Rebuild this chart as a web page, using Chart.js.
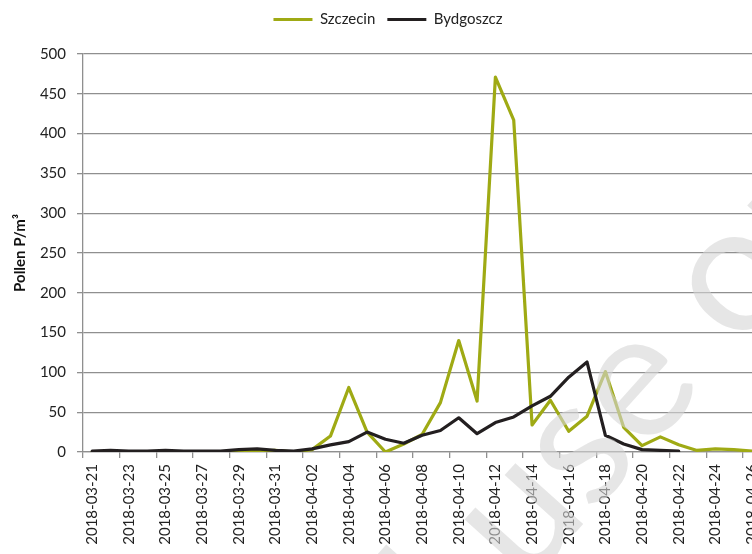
<!DOCTYPE html>
<html>
<head>
<meta charset="utf-8">
<script src="https://cdn.jsdelivr.net/npm/chart.js@4/dist/chart.umd.min.js"></script>
<style>
  html, body { margin: 0; padding: 0; background: #fff; overflow: hidden; }
  #wrap { width: 776px; height: 554px; position: relative; }
</style>
</head>
<body>
<div id="wrap"><canvas id="chart"></canvas></div>
<script>
const dates = [
  '2018-03-21', '2018-03-22', '2018-03-23', '2018-03-24', '2018-03-25', '2018-03-26',
  '2018-03-27', '2018-03-28', '2018-03-29', '2018-03-30', '2018-03-31', '2018-04-01',
  '2018-04-02', '2018-04-03', '2018-04-04', '2018-04-05', '2018-04-06', '2018-04-07',
  '2018-04-08', '2018-04-09', '2018-04-10', '2018-04-11', '2018-04-12', '2018-04-13',
  '2018-04-14', '2018-04-15', '2018-04-16', '2018-04-17', '2018-04-18', '2018-04-19',
  '2018-04-20', '2018-04-21', '2018-04-22', '2018-04-23', '2018-04-24', '2018-04-25',
  '2018-04-26',
];

const szczecin = [
  0, 0, 0, 0, 0, 0, 0, 0, 1, 1, 2, 0,
  3, 20, 81, 25, 0, 10, 22, 62, 140, 64, 471, 417,
  34, 65, 26, 45, 101, 31, 8, 19, 9, 2, 4, 3,
  1,
];

const bydgoszcz = [
  1, 2, 1, 1, 2, 1, 1, 1, 3, 4, 2, 1,
  4, 9, 13, 25, 16, 11, 21, 27, 43, 23, 37, 44,
  58, 70, 94, 113, 21, 10, 3, 2, 1, null, null, null,
  null,
];

const yTicks = [0, 50, 100, 150, 200, 250, 300, 350, 400, 450, 500];

const green = '#9faa14';
const black = '#231f20';
const gridGrey = '#8f8f8f';
const font = 'Lato';

// legend takes the top strip, plot starts at y=54
const legendHeight = {
  id: 'legendHeight',
  beforeInit(chart) {
    const fit = chart.legend.fit;
    chart.legend.fit = function () {
      fit.bind(chart.legend)();
      this.height = 54;
    };
  },
};

const watermark = {
  id: 'watermark',
  afterDraw(chart) {
    const ctx = chart.ctx;
    ctx.save();
    ctx.font = `180px ${font}`;
    ctx.fillStyle = 'rgba(214,214,214,0.6)';
    ctx.translate(558, 552);
    ctx.rotate(-48 * Math.PI / 180);
    const before = ctx.measureText('Personal ').width;
    const u = ctx.measureText('u').width;
    ctx.textBaseline = 'alphabetic';
    ctx.fillText('Personal use only', -before - u / 2, 0);
    ctx.restore();
  },
};

const ctx = document.getElementById('chart');

new Chart(ctx, {
  type: 'line',
  data: {
    labels: dates,
    datasets: [
      {
        label: 'Szczecin',
        data: szczecin,
        borderColor: green,
        backgroundColor: green,
        borderWidth: 3.2,
        order: 2,
      },
      {
        label: 'Bydgoszcz',
        data: bydgoszcz,
        borderColor: black,
        backgroundColor: black,
        borderWidth: 3.2,
        order: 1,
      },
    ],
  },
  options: {
    responsive: true,
    maintainAspectRatio: false,
    animation: false,
    layout: { padding: 0 },
    elements: {
      line: { tension: 0, borderJoinStyle: 'round', borderCapStyle: 'round' },
      point: { radius: 0, hoverRadius: 0 },
    },
    plugins: {
      tooltip: { enabled: false },
      legend: {
        position: 'top',
        labels: {
          font: { family: font, size: 15 },
          color: '#222',
          usePointStyle: true,
          pointStyle: 'line',
          pointStyleWidth: 39,
          boxHeight: 15,
          padding: 12,
          sort: (a, b) => a.datasetIndex - b.datasetIndex,
        },
      },
    },
    scales: {
      x: {
        offset: true,
        afterFit: (scale) => { scale.height = 102; },
        grid: {
          offset: true,
          drawOnChartArea: false,
          drawTicks: true,
          tickLength: 6,
          color: (c) => (c.index % 2 === 0 ? gridGrey : 'rgba(0,0,0,0)'),
          lineWidth: 1.3,
        },
        border: { display: true, color: gridGrey, width: 1.3 },
        ticks: {
          autoSkip: false,
          maxRotation: 90,
          minRotation: 90,
          padding: 6,
          color: '#222',
          font: { family: font, size: 15 },
          callback: (value, index) => (index % 2 === 0 ? dates[index] : ''),
        },
      },
      y: {
        min: yTicks[0],
        max: yTicks[yTicks.length - 1],
        afterFit: (scale) => { scale.width = 83; },
        afterBuildTicks: (scale) => { scale.ticks = yTicks.map((v) => ({ value: v })); },
        grid: {
          color: gridGrey,
          lineWidth: 1.3,
          tickLength: 6,
        },
        border: { display: true, color: gridGrey, width: 1.3 },
        ticks: {
          padding: 11,
          color: '#222',
          font: { family: font, size: 15 },
        },
        title: {
          display: true,
          text: 'Pollen P/m³',
          color: '#111',
          font: { family: font, size: 15, weight: 'bold' },
          padding: { top: 11, bottom: 0 },
        },
      },
    },
  },
  plugins: [legendHeight, watermark],
});
</script>
</body>
</html>
